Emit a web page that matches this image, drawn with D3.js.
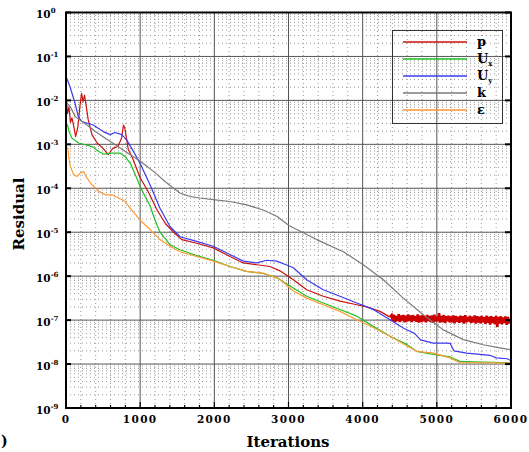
<!DOCTYPE html>
<html>
<head>
<meta charset="utf-8">
<script src="https://cdn.jsdelivr.net/npm/d3@7"></script>
<style>
  body { margin: 0; background: #fff; }
  svg { display: block; }
  text { font-family: "DejaVu Serif", serif; font-weight: bold; fill: #000; }
</style>
</head>
<body>
<svg id="chart" width="529" height="452"></svg>
<script>
// ---- residual histories (iteration, residual) ----
const pIter = [0,20,40,60,80,100,130,160,190,210,230,250,270,300,350,420,500,570,630,700,750,775,790,800,840,890,1000,1100,1230,1340,1450,1560,1762,1986,2211,2390,2571,2750,2885,3065,3245,3469,3694,3920,4054,4234,4369];
const pVal  = [1.66e-2,5.0e-3,7.1e-3,3.16e-3,4.0e-3,2.8e-3,1.5e-3,2.5e-3,7.9e-3,1.45e-2,9.3e-3,1.32e-2,7.9e-3,3.6e-3,1.66e-3,1.07e-3,8.1e-4,5.8e-4,8.1e-4,8.9e-4,1.4e-3,2.75e-3,2.4e-3,2.0e-3,7.6e-4,5.2e-4,1.74e-4,8.9e-5,3.16e-5,1.58e-5,1.0e-5,6.8e-6,5.6e-6,4.4e-6,2.8e-6,2.0e-6,1.82e-6,1.66e-6,1.32e-6,8.3e-7,4.9e-7,3.5e-7,2.7e-7,2.24e-7,2.0e-7,1.58e-7,1.17e-7];
// pressure residual stalls and oscillates from here on (written every 16 iterations)
const pTailStart = 4390;
const pTailStep = 16;
const pTail = [
  12.9e-8,9.4e-8,13.2e-8,9.0e-8,12.4e-8,9.6e-8,13.6e-8,9.1e-8,12.8e-8,9.8e-8,13.1e-8,8.9e-8,12.5e-8,9.3e-8,13.4e-8,9.5e-8,12.7e-8,9.0e-8,13.0e-8,9.7e-8,12.3e-8,9.2e-8,13.5e-8,8.8e-8,12.6e-8,
  9.1e-8,12.9e-8,9.4e-8,12.2e-8,8.9e-8,13.1e-8,9.6e-8,12.4e-8,9.0e-8,12.8e-8,8.7e-8,13.3e-8,9.3e-8,12.0e-8,9.5e-8,14.3e-8,8.8e-8,12.5e-8,9.2e-8,13.0e-8,8.6e-8,12.3e-8,9.4e-8,12.6e-8,8.9e-8,
  12.1e-8,9.0e-8,12.8e-8,8.5e-8,12.4e-8,9.2e-8,11.9e-8,8.7e-8,12.6e-8,9.1e-8,12.2e-8,8.4e-8,12.9e-8,8.9e-8,11.8e-8,9.3e-8,12.5e-8,8.6e-8,12.0e-8,9.0e-8,12.7e-8,8.3e-8,12.2e-8,8.8e-8,11.9e-8,
  8.5e-8,12.4e-8,8.9e-8,11.7e-8,8.2e-8,12.6e-8,8.7e-8,12.0e-8,7.9e-8,12.3e-8,8.6e-8,11.6e-8,8.1e-8,12.5e-8,7.0e-8,11.9e-8,8.4e-8,12.2e-8,8.0e-8,11.5e-8,8.6e-8,12.1e-8,7.8e-8,11.8e-8,8.3e-8
];

const uxIter = [0,27,40,81,171,261,351,441,508,620,732,800,867,935,1000,1070,1133,1200,1267,1402,1537,1762,1986,2211,2436,2660,2850,3065,3245,3469,3694,3920,4143,4369,4594,4728,4952,5178,5312,5492,5761,6000];
const uxVal  = [3.16e-3,2.5e-3,1.95e-3,1.38e-3,1.07e-3,9.8e-4,8.9e-4,6.9e-4,6.0e-4,6.3e-4,6.3e-4,5.2e-4,3.7e-4,2.04e-4,1.1e-4,6.3e-5,4.0e-5,1.9e-5,1.0e-5,5.2e-6,4.0e-6,2.95e-6,2.3e-6,1.66e-6,1.29e-6,1.15e-6,9.1e-7,5.4e-7,3.5e-7,2.45e-7,1.74e-7,1.23e-7,7.2e-8,4.3e-8,2.8e-8,1.95e-8,1.66e-8,1.45e-8,1.15e-8,1.12e-8,1.1e-8,1.07e-8];

const uyIter = [0,54,121,166,212,368,503,593,661,751,818,886,998,1133,1267,1402,1537,1762,1986,2211,2390,2571,2706,2841,2976,3065,3245,3469,3694,3920,4143,4369,4548,4638,4700,4780,4952,5133,5180,5230,5403,5582,5717,5750,5800,5950,6000];
const uyVal  = [3.55e-2,2.04e-2,8.7e-3,4.27e-3,3.31e-3,2.75e-3,1.95e-3,1.66e-3,1.86e-3,1.66e-3,1.26e-3,8.1e-4,3.7e-4,1.2e-4,3.5e-5,1.35e-5,7.9e-6,6.2e-6,4.8e-6,3.1e-6,2.2e-6,2.0e-6,2.3e-6,2.2e-6,1.8e-6,1.55e-6,8.3e-7,4.9e-7,3.5e-7,2.45e-7,1.75e-7,1.02e-7,6.6e-8,5.6e-8,5.0e-8,3.55e-8,3.0e-8,3.0e-8,2.95e-8,2.0e-8,1.78e-8,1.66e-8,1.58e-8,1.51e-8,1.38e-8,1.32e-8,1.2e-8];

const kIter = [0,58,125,216,306,395,530,665,800,935,1069,1204,1339,1429,1537,1672,1807,1986,2211,2436,2660,2841,3011,3380,3739,4009,4278,4548,4817,5087,5357,5626,5852,6000];
const kVal  = [9.1e-3,7.2e-3,4.27e-3,3.31e-3,2.57e-3,1.95e-3,1.38e-3,9.8e-4,6.9e-4,4.9e-4,3.4e-4,2.24e-4,1.41e-4,1.07e-4,7.8e-5,6.5e-5,6.0e-5,5.5e-5,5.0e-5,4.2e-5,3.2e-5,2.3e-5,1.41e-5,6.8e-6,3.6e-6,1.82e-6,8.3e-7,3.16e-7,1.32e-7,6.0e-8,3.6e-8,2.75e-8,2.34e-8,2.1e-8];

const epsIter = [0,27,36,58,103,148,193,238,283,351,441,530,620,710,800,845,900,998,1133,1267,1402,1537,1762,1986,2211,2436,2660,2885,3065,3245,3469,3694,3920,4143,4369,4594,4728,4952,5178,5312,5492,6000];
const epsVal  = [8.9e-4,8.1e-4,5.2e-4,3.16e-4,2.04e-4,1.86e-4,2.24e-4,2.4e-4,1.7e-4,1.2e-4,8.5e-5,7.1e-5,7.1e-5,6.0e-5,5.0e-5,3.9e-5,3.0e-5,1.9e-5,1.15e-5,6.8e-6,4.8e-6,3.6e-6,2.8e-6,2.2e-6,1.66e-6,1.29e-6,1.17e-6,8.5e-7,4.6e-7,3.16e-7,2.24e-7,1.58e-7,1.02e-7,6.8e-8,4.3e-8,2.6e-8,1.95e-8,1.78e-8,1.38e-8,1.07e-8,1.07e-8,1.05e-8];

// ---- axes ----
const xTicks = [0,1000,2000,3000,4000,5000,6000];
const yExponents = [0,-1,-2,-3,-4,-5,-6,-7,-8,-9];
const seriesNames = ["p","U","U","k","ε"];
const seriesSubs  = ["","x","y","",""];
const seriesColors = ["#cc1111","#22c022","#3b3bf0","#7a7a7a","#ff9a33"];

const svg = d3.select("#chart");
const x = d3.scaleLinear().domain([0, 6000]).range([66, 511]);
const y = d3.scaleLog().domain([1e-9, 1]).range([408, 12.5]);
const [x0, x1] = x.range();
const [yb, yt] = y.range();

// minor dotted grid
const gGrid = svg.append("g");
const minorY = [];
for (let e = -9; e < 0; e++) for (let k = 2; k <= 9; k++) minorY.push(k * Math.pow(10, e));
gGrid.selectAll("line.my").data(minorY).join("line")
  .attr("x1", x0).attr("x2", x1)
  .attr("y1", d => y(d)).attr("y2", d => y(d))
  .attr("stroke", "#999").attr("stroke-width", 1).attr("stroke-dasharray", "1,3");
const minorX = d3.range(200, 6000, 200).filter(v => v % 1000 !== 0);
gGrid.selectAll("line.mx").data(minorX).join("line")
  .attr("x1", d => x(d)).attr("x2", d => x(d))
  .attr("y1", yb).attr("y2", yt)
  .attr("stroke", "#999").attr("stroke-width", 1).attr("stroke-dasharray", "1,3");

// major grid
gGrid.selectAll("line.My").data(yExponents.slice(1, -1)).join("line")
  .attr("x1", x0).attr("x2", x1)
  .attr("y1", d => y(Math.pow(10, d))).attr("y2", d => y(Math.pow(10, d)))
  .attr("stroke", "#555").attr("stroke-width", 1);
gGrid.selectAll("line.Mx").data(xTicks.slice(1, -1)).join("line")
  .attr("x1", d => x(d)).attr("x2", d => x(d))
  .attr("y1", yb).attr("y2", yt)
  .attr("stroke", "#555").attr("stroke-width", 1);

// ---- curves ----
const line = d3.line().x(d => x(d[0])).y(d => y(d[1]));
const pMain = pIter.map((it, i) => [it, pVal[i]]);
const pOsc = [pMain[pMain.length - 1]].concat(pTail.map((v, i) => [pTailStart + i * pTailStep, v]));
const curves = [
  pMain,
  uxIter.map((it, i) => [it, uxVal[i]]),
  uyIter.map((it, i) => [it, uyVal[i]]),
  kIter.map((it, i) => [it, kVal[i]]),
  epsIter.map((it, i) => [it, epsVal[i]])
];
svg.append("defs").append("clipPath").attr("id", "plotClip")
  .append("rect").attr("x", x0).attr("y", yt).attr("width", x1 - x0).attr("height", yb - yt);
const gCurves = svg.append("g").attr("clip-path", "url(#plotClip)");
// stalled pressure oscillation: a dense band
gCurves.append("path").datum(pOsc)
  .attr("d", line).attr("fill", "none")
  .attr("stroke", "#cc0000").attr("stroke-width", 2.6).attr("stroke-linejoin", "miter");
gCurves.selectAll("path.c").data(curves).join("path")
  .attr("class", "c")
  .attr("d", line)
  .attr("fill", "none")
  .attr("stroke", (d, i) => seriesColors[i])
  .attr("stroke-width", 1.2)
  .attr("stroke-linejoin", "round");

// ---- frame and ticks ----
const gAxis = svg.append("g");
gAxis.append("rect").attr("x", x0).attr("y", yt).attr("width", x1 - x0).attr("height", yb - yt)
  .attr("fill", "none").attr("stroke", "#000").attr("stroke-width", 2);
const decades = yExponents.map(e => Math.pow(10, e));
gAxis.selectAll("line.tl").data(decades).join("line")
  .attr("x1", x0).attr("x2", x0 + 5).attr("y1", d => y(d)).attr("y2", d => y(d))
  .attr("stroke", "#000").attr("stroke-width", 2);
gAxis.selectAll("line.tr").data(decades).join("line")
  .attr("x1", x1 - 6).attr("x2", x1).attr("y1", d => y(d)).attr("y2", d => y(d))
  .attr("stroke", "#000").attr("stroke-width", 2);
gAxis.selectAll("line.tb").data(d3.range(0, 6001, 200)).join("line")
  .attr("x1", d => x(d)).attr("x2", d => x(d))
  .attr("y1", yb).attr("y2", d => yb - (d % 1000 === 0 ? 6 : 3))
  .attr("stroke", "#000").attr("stroke-width", 1.2);

// tick labels
gAxis.selectAll("text.xt").data(xTicks).join("text")
  .attr("x", d => x(d)).attr("y", 423)
  .attr("text-anchor", "middle")
  .attr("font-size", 10.5).attr("letter-spacing", 1.4)
  .text(d => d);
const yl = gAxis.selectAll("text.yt").data(yExponents).join("text")
  .attr("x", 36).attr("y", d => y(Math.pow(10, d)) + 5.5)
  .attr("font-size", 10.5);
yl.append("tspan").text("10");
yl.append("tspan").attr("font-size", 7).attr("dy", -5).text(d => d === 0 ? "0" : "-" + (-d));

// axis titles
svg.append("text").attr("x", 288).attr("y", 447).attr("text-anchor", "middle")
  .attr("font-size", 15).text("Iterations");
svg.append("text").attr("transform", "translate(24,214) rotate(-90)")
  .attr("text-anchor", "middle").attr("font-size", 15).text("Residual");
// closing bracket of the panel tag in the lower-left corner
svg.append("text").attr("x", 1).attr("y", 446)
  .attr("font-size", 14).text(")");

// ---- legend ----
const gLeg = svg.append("g");
gLeg.append("rect").attr("x", 392.5).attr("y", 30.5).attr("width", 110).attr("height", 93)
  .attr("fill", "none").attr("stroke", "#333").attr("stroke-width", 1);
const legY = [42, 59, 76, 93, 110];
const items = gLeg.selectAll("g.item").data(seriesNames).join("g")
  .attr("transform", (d, i) => `translate(0,${legY[i]})`);
items.append("line").attr("x1", 403).attr("x2", 467).attr("y1", 0).attr("y2", 0)
  .attr("stroke", (d, i) => seriesColors[i]).attr("stroke-width", 1.3);
const lt = items.append("text").attr("x", 477).attr("y", 4).attr("font-size", 13);
lt.append("tspan").text(d => d);
lt.append("tspan").attr("font-size", 7).attr("dy", 3).text((d, i) => seriesSubs[i]);
</script>
</body>
</html>
